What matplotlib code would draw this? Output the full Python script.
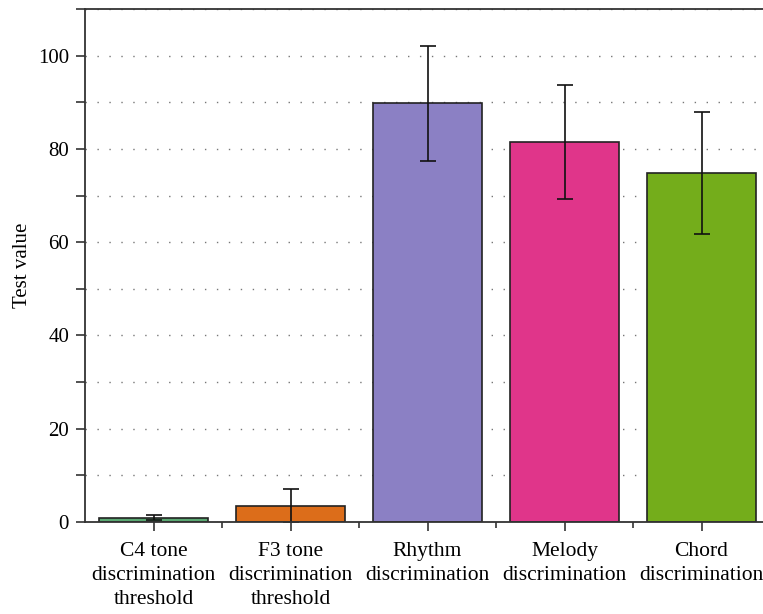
import matplotlib
matplotlib.use('Agg')
import matplotlib.pyplot as plt
from matplotlib.ticker import MultipleLocator, FixedLocator

plt.rcParams['font.family'] = ['Liberation Serif', 'DejaVu Serif']

# 测试数据
categories = ['C4 tone\ndiscrimination\nthreshold',
              'F3 tone\ndiscrimination\nthreshold',
              'Rhythm\ndiscrimination',
              'Melody\ndiscrimination',
              'Chord\ndiscrimination']
means = [0.9, 3.4, 89.8, 81.5, 74.8]
errors = [0.5, 3.7, 12.3, 12.2, 13.1]
colors = ['#5aa872', '#dc6d1a', '#8b80c4', '#e0358a', '#74ad1b']

fig = plt.figure(figsize=(7.63, 6.14), dpi=100)
ax = fig.add_axes([85 / 763, 92 / 614, 685 / 763, 513 / 614])

x = range(len(categories))
ax.bar(x, means, width=0.8, color=colors, edgecolor='#222222', linewidth=1.2,
       yerr=errors, capsize=6, error_kw=dict(ecolor='#111111', elinewidth=1.2, capthick=1.2),
       zorder=2)

ax.set_xlim(-0.5, 4.5)
ax.set_ylim(0, 110)
ax.set_xticks(list(x))
ax.set_xticklabels(categories, fontsize=15.5, linespacing=1.34)
ax.xaxis.set_minor_locator(FixedLocator([0.5, 1.5, 2.5, 3.5]))
ax.yaxis.set_major_locator(FixedLocator([0, 20, 40, 60, 80, 100]))
ax.yaxis.set_minor_locator(MultipleLocator(10))
ax.tick_params(axis='y', which='both', length=6.5, width=1.2, color='#333333',
               labelsize=15, pad=5)
ax.tick_params(axis='x', which='major', length=6.5, width=1.2, color='#333333', pad=8)
ax.tick_params(axis='x', which='minor', length=4, width=1.2, color='#333333')
ax.set_ylabel('Test value', fontsize=15, labelpad=4)

ax.set_axisbelow(True)
ax.grid(axis='y', which='both', color='#777777', linestyle=(0, (1, 7.6)), linewidth=1.0)

for side in ['left', 'top', 'bottom', 'right']:
    ax.spines[side].set_color('#333333')
    ax.spines[side].set_linewidth(1.3)

plt.savefig('out.png', dpi=100)
